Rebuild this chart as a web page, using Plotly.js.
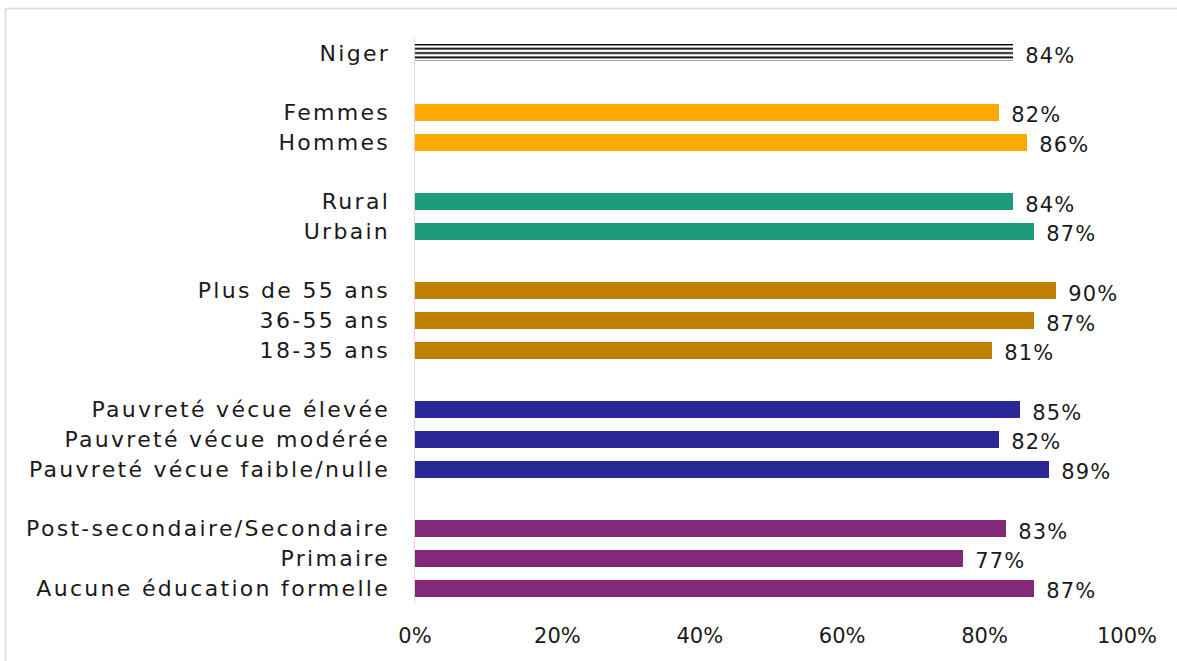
<!DOCTYPE html>
<html>
<head>
<meta charset="utf-8">
<script src="https://cdn.plot.ly/plotly-3.0.1.min.js"></script>
<style>
html,body{margin:0;padding:0;background:#fff;}
#chart{width:1177px;height:661px;}
#chart .ytick text{letter-spacing:2.3px;}
#chart .annotation-text{letter-spacing:1.2px;}
</style>
</head>
<body>
<div id="chart"></div>
<script>
const categories = ['Niger','Femmes','Hommes','Rural','Urbain','Plus de 55 ans','36-55 ans','18-35 ans','Pauvreté vécue élevée','Pauvreté vécue modérée','Pauvreté vécue faible/nulle','Post-secondaire/Secondaire','Primaire','Aucune éducation formelle'];
const values = [84,82,86,84,87,90,87,81,85,82,89,83,77,87];
const groups = [0,1,1,2,2,3,3,3,4,4,4,5,5,5];
const groupColors = ['#000000','#FFA800','#1E9C7A','#BF7F00','#2A2896','#842878'];
const xTicks = [0,20,40,60,80,100];

const FONT = 'DejaVu Sans, sans-serif';
const positions = categories.map((c,i)=>i+groups[i]);

const traces = [];
for (let g = 0; g < groupColors.length; g++) {
  const idx = categories.map((c,i)=>i).filter(i=>groups[i]===g);
  const t = {
    type:'bar', orientation:'h',
    x: idx.map(i=>values[i]),
    y: idx.map(i=>positions[i]),
    width: 0.57,
    marker:{color:groupColors[g], line:{width:0}},
    hoverinfo:'skip', showlegend:false
  };
  if (g === 0) {
    t.marker = {color:'#ffffff', line:{width:0},
      pattern:{shape:'-', fgcolor:'#000000', bgcolor:'#ffffff', size:4.3, solidity:0.42, fillmode:'replace'}};
  }
  traces.push(t);
}

const annotations = categories.map((c,i)=>({
  x: values[i], y: positions[i], xref:'x', yref:'y',
  text: values[i] + '%', showarrow:false,
  xanchor:'left', yanchor:'middle', xshift:12, yshift:-3,
  font:{family:FONT, size:21, color:'#1a1a1a'}
}));

const L = 415, R = 50, T = 38, B = 58;
const W = 1177, H = 661;
const pw = W - L - R, ph = H - T - B;
const px2paperX = px => (px - L) / pw;
const py2paperY = py => 1 - (py - T) / ph;

const layout = {
  width: W, height: H,
  margin:{l:L, r:R, t:T, b:B, pad:0},
  paper_bgcolor:'#ffffff', plot_bgcolor:'#ffffff',
  font:{family:FONT, size:21, color:'#1a1a1a'},
  bargap:0,
  xaxis:{range:[0,100], tickvals:xTicks, ticktext:xTicks.map(v=>v+'%'),
    showgrid:false, zeroline:false, showline:false, ticks:'', ticklabelstandoff:18,
    tickfont:{family:FONT, size:21, color:'#1a1a1a'}, fixedrange:true},
  yaxis:{range:[18.5,-0.5], tickvals:positions, ticktext:categories,
    showgrid:false, zeroline:false, showline:true, linecolor:'#d9d9d9', linewidth:1.5,
    ticks:'', ticklabelstandoff:19,
    tickfont:{family:FONT, size:22, color:'#1a1a1a'}, fixedrange:true},
  annotations: annotations,
  shapes:[
    {type:'line', xref:'paper', yref:'paper', x0:px2paperX(5.5), x1:px2paperX(5.5), y0:py2paperY(8.5), y1:py2paperY(700), line:{color:'#d9d9d9', width:1.5}},
    {type:'line', xref:'paper', yref:'paper', x0:px2paperX(5.5), x1:px2paperX(1200), y0:py2paperY(8.5), y1:py2paperY(8.5), line:{color:'#d9d9d9', width:1.5}}
  ]
};

Plotly.newPlot('chart', traces, layout, {displayModeBar:false, staticPlot:true});
</script>
</body>
</html>
